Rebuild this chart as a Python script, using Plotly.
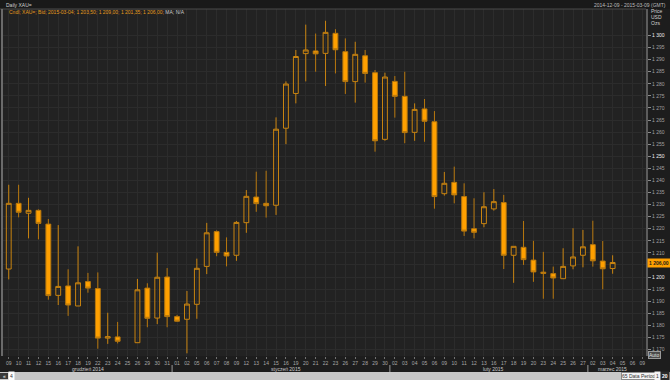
import plotly.graph_objects as go

# ---------------- data ----------------
slot_dates = [
    "2014-12-09","2014-12-10","2014-12-11","2014-12-12","2014-12-15","2014-12-16","2014-12-17",
    "2014-12-18","2014-12-19","2014-12-22","2014-12-23","2014-12-24","2014-12-25","2014-12-26",
    "2014-12-29","2014-12-30","2014-12-31","2015-01-01","2015-01-02","2015-01-05","2015-01-06",
    "2015-01-07","2015-01-08","2015-01-09","2015-01-12","2015-01-13","2015-01-14","2015-01-15",
    "2015-01-16","2015-01-19","2015-01-20","2015-01-21","2015-01-22","2015-01-23","2015-01-26",
    "2015-01-27","2015-01-28","2015-01-29","2015-01-30","2015-02-02","2015-02-03","2015-02-04",
    "2015-02-05","2015-02-06","2015-02-09","2015-02-10","2015-02-11","2015-02-12","2015-02-13",
    "2015-02-16","2015-02-17","2015-02-18","2015-02-19","2015-02-20","2015-02-23","2015-02-24",
    "2015-02-25","2015-02-26","2015-02-27","2015-03-02","2015-03-03","2015-03-04","2015-03-05",
    "2015-03-06","2015-03-09",
]
tick_labels = [d[-2:] for d in slot_dates]

candle_dates = [d for d in slot_dates if d <= "2015-03-04" and d != "2014-12-25"]

opens = [1203.3,1230.5,1226.4,1227.6,1221.9,1192.4,1196.3,1188.0,1198.1,1195.2,1174.7,1175.2,
         1172.8,1195.4,1183.0,1200.0,1183.6,1182.5,1188.7,1204.4,1218.8,1210.2,1209.0,1222.5,
         1233.1,1230.5,1229.7,1261.6,1276.0,1292.5,1293.6,1292.6,1300.9,1293.3,1280.9,1291.6,
         1284.6,1257.0,1281.0,1274.8,1259.9,1269.6,1264.3,1234.5,1239.2,1233.3,1220.0,1222.1,
         1228.2,1230.8,1209.0,1212.3,1207.0,1202.0,1201.4,1199.3,1204.6,1209.0,1213.4,1206.6,
         1203.5]
highs = [1238.2,1238.2,1232.8,1228.0,1224.0,1221.5,1203.2,1212.7,1201.7,1201.9,1185.2,1181.4,
         1199.2,1197.4,1210.1,1203.7,1184.3,1194.2,1207.6,1222.4,1219.3,1216.4,1223.2,1236.0,
         1243.6,1244.0,1266.1,1281.0,1294.0,1304.5,1300.8,1306.1,1302.6,1298.8,1297.4,1294.0,
         1285.7,1284.6,1283.2,1285.0,1271.9,1273.7,1268.7,1243.5,1245.7,1238.8,1232.6,1235.1,
         1236.4,1234.0,1212.7,1223.2,1215.0,1210.4,1204.3,1211.9,1220.2,1219.5,1223.3,1214.9,
         1209.0]
lows = [1199.0,1224.7,1216.0,1215.6,1190.6,1188.4,1183.9,1188.0,1193.5,1170.3,1172.3,1172.5,
        1172.8,1179.2,1180.5,1179.2,1181.5,1168.4,1182.7,1201.2,1208.6,1204.4,1206.7,1218.3,
        1227.0,1224.6,1225.7,1255.0,1271.9,1281.0,1285.0,1279.1,1284.3,1275.8,1272.2,1280.5,
        1251.9,1256.4,1266.0,1255.4,1256.4,1256.0,1228.3,1233.7,1230.5,1217.0,1216.0,1220.6,
        1227.5,1203.3,1197.6,1205.0,1198.0,1191.0,1191.0,1199.3,1203.2,1204.0,1204.3,1194.9,
        1201.35]
closes = [1230.5,1226.8,1227.6,1222.2,1192.3,1196.1,1188.4,1197.6,1195.4,1174.7,1175.3,1173.4,
          1194.7,1182.9,1199.9,1183.6,1181.7,1188.8,1203.6,1218.3,1210.2,1208.7,1222.6,1233.4,
          1230.4,1229.5,1261.2,1279.9,1291.3,1294.0,1292.4,1301.3,1294.1,1280.9,1292.2,1284.3,
          1256.4,1282.8,1274.8,1259.8,1269.4,1264.5,1233.3,1238.8,1234.0,1219.0,1218.5,1229.1,
          1231.2,1209.0,1212.7,1207.2,1202.1,1201.5,1199.6,1204.4,1208.3,1212.5,1206.7,1203.4,
          1206.0]

price_ticks = list(range(1170, 1301, 5))
major_ticks = [1200, 1250, 1300]
hidden_tick = 1205  # covered by the last-price marker
month_labels = ["grudzień 2014", "styczeń 2015", "luty 2015", "marzec 2015"]
month_label_pos = ["2014-12-19", "2015-01-16", "2015-02-16", "2015-03-04"]
month_breaks = [16.5, 38.5, 58.5]
last_price_label = "1 206,00"
header_main = "Cndl; XAU=; Bid; 2015-03-04; 1 203,50; 1 209,00; 1 201,35; 1 206,00;"
header_tail = " MA; N/A"

# ---------------- layout geometry ----------------
W, H = 670, 380
L, R, T, B = 3, 646, 9, 356


def px(xpix):
    return (xpix - L) / (R - L)


def py(ypix):
    return 1 - (ypix - T) / (B - T)


FONT = "Liberation Sans"
ORANGE = "#ffa000"


def fmt(v):
    return f"{v:,}".replace(",", " ")


ticktext = []
for v in price_ticks:
    if v == hidden_tick:
        ticktext.append("")
    elif v in major_ticks:
        ticktext.append(f"<span style='color:#f0f0f0'>{fmt(v)}</span>")
    else:
        ticktext.append(fmt(v))

fig = go.Figure()
fig.add_trace(go.Candlestick(
    x=candle_dates, open=opens, high=highs, low=lows, close=closes,
    increasing=dict(line=dict(color="#c98410", width=1), fillcolor="rgba(0,0,0,0)"),
    decreasing=dict(line=dict(color="#b8780e", width=1), fillcolor=ORANGE),
    whiskerwidth=0, hoverinfo="skip", showlegend=False,
))

annotations = []
shapes = []

annotations.append(dict(
    xref="paper", yref="paper", x=px(7), y=py(12.5), xanchor="left", yanchor="middle",
    text=f"<span style='color:#e39a1c'>{header_main}</span><span style='color:#c8c8c8'>{header_tail}</span>",
    showarrow=False, font=dict(family=FONT, size=5)))
annotations.append(dict(xref="paper", yref="paper", x=px(4), y=py(4.5), xanchor="left",
                        yanchor="middle", text="Daily XAU=", showarrow=False,
                        font=dict(family=FONT, size=5, color="#cfcfcf")))
annotations.append(dict(xref="paper", yref="paper", x=px(668), y=py(4.5), xanchor="right",
                        yanchor="middle", text="2014-12-09 - 2015-03-09 (GMT)", showarrow=False,
                        font=dict(family=FONT, size=5, color="#bdbdbd")))
for t, yy in zip(["Price", "USD", "Ozs"], [11, 17, 23]):
    annotations.append(dict(xref="paper", yref="paper", x=px(649), y=py(yy), xanchor="left",
                            yanchor="middle", text=t, showarrow=False,
                            font=dict(family=FONT, size=5, color="#d0d0d0")))
annotations.append(dict(xref="paper", yref="y", x=px(647), y=closes[-1], xanchor="left",
                        yanchor="middle", text=f"<b>{last_price_label}</b>", showarrow=False,
                        bgcolor=ORANGE, borderpad=1,
                        font=dict(family=FONT, size=5, color="#1a1a1a")))
annotations.append(dict(xref="paper", yref="paper", x=px(648), y=py(355), xanchor="left",
                        yanchor="middle", text="Auto", showarrow=False, bgcolor="#4a4a4a",
                        bordercolor="#9a9a9a", borderwidth=1, borderpad=0,
                        font=dict(family=FONT, size=5, color="#e0e0e0")))
for lab, pos in zip(month_labels, month_label_pos):
    annotations.append(dict(xref="x", yref="paper", x=pos, y=py(369), xanchor="center",
                            yanchor="middle", text=lab, showarrow=False,
                            font=dict(family=FONT, size=5, color="#c8c8c8")))
for mb in month_breaks:
    shapes.append(dict(type="line", xref="x", yref="paper", x0=mb, x1=mb,
                       y0=py(365), y1=py(372), line=dict(color="#9a9a9a", width=1)))

shapes.append(dict(type="rect", xref="paper", yref="paper", x0=px(0), x1=px(670), y0=py(9),
                   y1=py(0), fillcolor="#191919", line=dict(width=0), layer="below"))
shapes.append(dict(type="line", xref="paper", yref="paper", x0=px(0), x1=px(646), y0=py(9),
                   y1=py(9), line=dict(color="#4a4a4a", width=1)))
shapes.append(dict(type="line", xref="paper", yref="paper", x0=px(2), x1=px(2), y0=py(9),
                   y1=py(356), line=dict(color="#6a6a6a", width=2)))
shapes.append(dict(type="rect", xref="paper", yref="paper", x0=px(0), x1=px(670), y0=py(380),
                   y1=py(372), fillcolor="#c8c8c8", line=dict(width=0)))
shapes.append(dict(type="rect", xref="paper", yref="paper", x0=px(0), x1=px(8), y0=py(379),
                   y1=py(373), fillcolor="#3a3a3a", line=dict(width=0)))
annotations.append(dict(xref="paper", yref="paper", x=px(4), y=py(376), xanchor="center",
                        yanchor="middle", text="«", showarrow=False,
                        font=dict(family=FONT, size=5, color="#ffffff")))
annotations.append(dict(xref="paper", yref="paper", x=px(11), y=py(376), xanchor="center",
                        yanchor="middle", text="4", showarrow=False, bgcolor="#ffffff",
                        font=dict(family=FONT, size=5, color="#333333")))
annotations.append(dict(xref="paper", yref="paper", x=px(639), y=py(376), xanchor="center",
                        yanchor="middle", text="65 Data Period", showarrow=False,
                        bgcolor="#f4f4f4", bordercolor="#8a8a8a", borderwidth=1, borderpad=0,
                        font=dict(family=FONT, size=5, color="#333333")))
annotations.append(dict(xref="paper", yref="paper", x=px(657.5), y=py(376), xanchor="center",
                        yanchor="middle", text="1", showarrow=False, bgcolor="#f4f4f4",
                        font=dict(family=FONT, size=5, color="#333333")))
annotations.append(dict(xref="paper", yref="paper", x=px(665), y=py(376), xanchor="center",
                        yanchor="middle", text="<b>20</b>", showarrow=False, bgcolor="#2a2a2a",
                        font=dict(family=FONT, size=5, color="#ffffff")))

fig.update_layout(
    width=W, height=H,
    margin=dict(l=L, r=W - R, t=T, b=H - B, autoexpand=False),
    paper_bgcolor="#1d1d1d", plot_bgcolor="#222222",
    font=dict(family=FONT, size=5, color="#a8a8a8"),
    showlegend=False,
    annotations=annotations, shapes=shapes,
    xaxis=dict(
        type="category", categoryorder="array", categoryarray=slot_dates,
        tickvals=slot_dates, ticktext=tick_labels, tickangle=0,
        range=[-0.58, len(slot_dates) - 0.63],
        showgrid=True, gridcolor="#2c2c2c", gridwidth=1,
        ticks="outside", ticklen=2, tickcolor="#707070",
        tickfont=dict(family=FONT, size=5, color="#a8a8a8"),
        rangeslider=dict(visible=False), zeroline=False, showline=False,
        fixedrange=True,
    ),
    yaxis=dict(
        side="right", range=[1167.29, 1310.97],
        tickvals=price_ticks, ticktext=ticktext,
        showgrid=True, gridcolor="#2c2c2c", gridwidth=1,
        ticks="outside", ticklen=3, tickcolor="#8a8a8a",
        tickfont=dict(family=FONT, size=5, color="#a0a0a0"),
        showline=True, linecolor="#5c5c5c", linewidth=2, zeroline=False,
        fixedrange=True,
    ),
)

fig.write_html(
    "out.html",
    config={"displayModeBar": False},
    post_script="document.body.style.margin='0';document.body.style.background='#1d1d1d';",
)
